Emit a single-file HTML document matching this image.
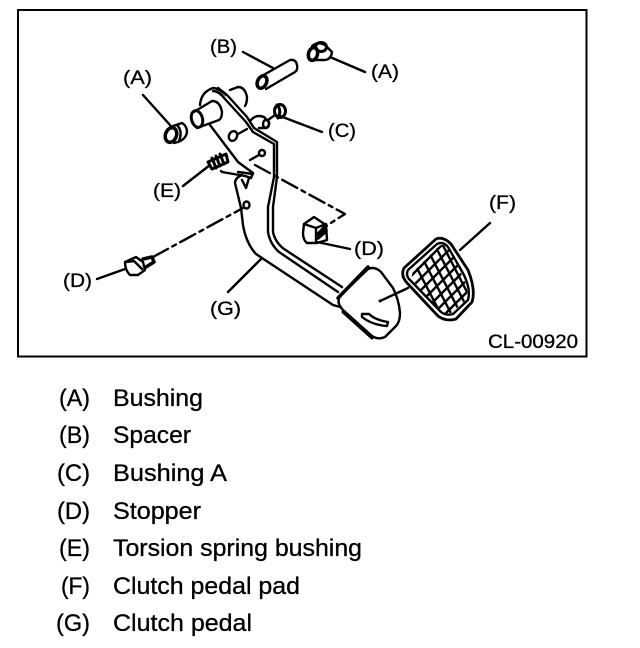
<!DOCTYPE html>
<html>
<head>
<meta charset="utf-8">
<style>
html,body{margin:0;padding:0;background:#fff;width:640px;height:648px;overflow:hidden}
svg{display:block}
text{font-family:"Liberation Sans",sans-serif;fill:#000;stroke:#000;stroke-width:.3px}
.l{font-size:19px}
.t{font-size:24px}
</style>
</head>
<body>
<svg width="640" height="648" viewBox="0 0 640 648" xmlns="http://www.w3.org/2000/svg">
<defs>
<clipPath id="mesh"><path d="M413 272L439 246Q445 243 450 249L466 284Q469 294 465 301L451 313Q445 315 440 311L414 282Q410 277 413 272Z"/></clipPath>
</defs>
<rect x="18" y="10" width="568.500" height="346.500" fill="none" stroke="#000" stroke-width="2"/>

<g fill="none" stroke="#000" stroke-width="2.400" stroke-linecap="round" stroke-linejoin="round">
<!-- leaders -->
<path d="M243 52L273 68M330 57L365 72M143 95L170 125M280 116L322 132M183 186L210 165M317 242L350 249M97 279L125 269M228 292L262 258M460 250L490 223"/>
<!-- dashed -->
<path d="M255 165L345 214L323 228" stroke-dasharray="17 5 4 5"/>
<path d="M153 257L243 208" stroke-dasharray="17 5 4 5"/>

<!-- spacer B -->
<path d="M260 77L290 60Q296 59 297 65Q298 70 295 72L266 89"/>
<ellipse cx="262" cy="82" rx="4.500" ry="6.500" transform="rotate(25 262 82)" stroke-width="3.500"/>
<!-- bushing A right -->
<path d="M312 46Q318 41 325 45L332 52Q331 60 324 60L314 60"/>
<ellipse cx="313" cy="54" rx="4.500" ry="6.500" transform="rotate(15 313 54)" stroke-width="3.500"/>
<ellipse cx="321" cy="47" rx="5.500" ry="4.500" stroke-width="3"/>
<!-- bushing A left -->
<ellipse cx="171" cy="135" rx="5.500" ry="7.500" transform="rotate(20 171 135)" stroke-width="3.500"/>
<path d="M170 127L182 123Q187 126 187 132Q186 139 178 142L174 143"/>
<path d="M177 125Q183 131 179 141"/>
<!-- bushing C -->
<ellipse cx="280" cy="111" rx="5.500" ry="6.500" stroke-width="3"/>
<path d="M277 105Q282 110 278 118" stroke-width="3"/>
<path d="M251 120Q256 114 264 117L269 122Q270 127 265 128L259 128"/>
<ellipse cx="266" cy="124" rx="3" ry="4"/>
<path d="M268 120L275 115"/>

<!-- back cylinder -->
<path d="M230 90L238 87Q245 87 247 97Q247 103 245 106"/>
<!-- boss plate -->
<path d="M200 105Q201 92 213 88Q218 88 226 95"/>
<!-- pedal arm double line -->
<path d="M213 91Q219 91 225 99L246 122L253 132L274 144L274 177L268 207L268 232Q270 244 279 252L338 292"/>
<path d="M218 88L227 95L247 117L254 128L277 142L277 177L273 207L273 232Q275 242 284 249L342 287"/>
<!-- front cylinder -->
<path d="M192 113L212 101Q220 101 222 112Q222 118 219 120L197 128"/>
<ellipse cx="197" cy="119" rx="5.500" ry="8.500" transform="rotate(-15 197 119)" stroke-width="3"/>
<!-- front edge -->
<path d="M210 125L238 162L253 173L251 178L245 176L222 172L221 171"/>
<path d="M238 172L253 174"/>
<path d="M242 175Q235 178 235 183L241 208L243 225Q246 243 256 254L262 258L333 305L340 307"/>
<path d="M242 180L246 188L249 178"/>
<!-- holes -->
<ellipse cx="233" cy="136" rx="4" ry="5" transform="rotate(25 233 136)"/>
<path d="M238 134L247 129"/>
<ellipse cx="262" cy="153" rx="3" ry="3"/>
<path d="M250 160L259 155"/>
<ellipse cx="246.500" cy="205" rx="3" ry="3.500"/>
<!-- torsion spring bushing E -->
<g stroke-width="3">
<path d="M208 162L226 154L228 162L212 169Z"/>
<path d="M212 158L216 168M216 156L220 166M220 154L224 164"/>
</g>
<!-- stopper right -->
<path d="M304 224L314 217L326 225L327 240L317 243L307 243Q303 240 303 233Z"/>
<path d="M304 224L316 228L316 242M316 228L326 224"/>
<path d="M318 234L326 226M318 238L326 231" stroke-width="3.500"/>
<!-- stopper left -->
<path d="M125 262L136 257L143 262L145 270L138 275L130 275Q125 270 125 262Z"/>
<path d="M126 262L134 261L142 269"/>
<path d="M143 259L152 257L154 262L146 267" stroke-width="3.500"/>
<!-- rubber foot -->
<path d="M340 296L368 269Q375 266 381 272L393 288Q399 300 400 313Q400 322 396 326L385 337Q378 340 372 336L343 310Q336 303 340 296Z" fill="#fff"/>
<path d="M338 298L368 267" stroke-width="3.500"/>
<path d="M343 312L372 338" stroke-width="3"/>
<path d="M362 314L369 314Q375 320 388 322L387 326Q372 325 362 317Z"/>
<path d="M380 301L408 288"/>
<!-- pedal pad F -->
<path d="M404 268L436 239Q443 236 451 244L468 270Q476 290 472 302L456 319Q446 322 438 316L408 284Q400 276 404 268Z" fill="#fff" stroke-width="2.800"/>
<path d="M408 270L437 244Q443 241 448 247L464 275Q471 290 468 300L453 314Q446 316 441 312L411 281Q405 276 408 270Z"/>
<g clip-path="url(#mesh)" stroke-width="2.400">
<path d="M395 280L445 230M400 287L450 237M405 294L455 244M410 301L460 251M415 308L465 258M420 315L470 265M425 322L475 272M430 329L480 279M435 336L485 286"/>
<path d="M420 235L464 320M412 238L456 323M404 243L448 328M428 232L472 317M436 232L480 317M444 232L488 317"/>
</g>
</g>
<circle cx="380" cy="301" r="1.500" fill="#000"/>

<!-- diagram labels -->
<text class="l" x="123" y="84" textLength="29" lengthAdjust="spacingAndGlyphs">(A)</text>
<text class="l" x="210" y="53" textLength="27" lengthAdjust="spacingAndGlyphs">(B)</text>
<text class="l" x="371" y="78" textLength="28" lengthAdjust="spacingAndGlyphs">(A)</text>
<text class="l" x="328" y="137" textLength="28" lengthAdjust="spacingAndGlyphs">(C)</text>
<text class="l" x="153" y="197" textLength="28" lengthAdjust="spacingAndGlyphs">(E)</text>
<text class="l" x="354" y="255" textLength="30" lengthAdjust="spacingAndGlyphs">(D)</text>
<text class="l" x="63" y="287" textLength="29" lengthAdjust="spacingAndGlyphs">(D)</text>
<text class="l" x="210" y="315" textLength="31" lengthAdjust="spacingAndGlyphs">(G)</text>
<text class="l" x="489" y="209" textLength="27" lengthAdjust="spacingAndGlyphs">(F)</text>
<text class="l" x="488" y="348" textLength="90" lengthAdjust="spacingAndGlyphs">CL-00920</text>

<!-- legend -->
<text class="t" x="59" y="406" textLength="31" lengthAdjust="spacingAndGlyphs">(A)</text>
<text class="t" x="113" y="406" textLength="90" lengthAdjust="spacingAndGlyphs">Bushing</text>
<text class="t" x="59" y="443" textLength="31" lengthAdjust="spacingAndGlyphs">(B)</text>
<text class="t" x="113" y="443" textLength="78" lengthAdjust="spacingAndGlyphs">Spacer</text>
<text class="t" x="57" y="481" textLength="33" lengthAdjust="spacingAndGlyphs">(C)</text>
<text class="t" x="113" y="481" textLength="114" lengthAdjust="spacingAndGlyphs">Bushing A</text>
<text class="t" x="57" y="519" textLength="33" lengthAdjust="spacingAndGlyphs">(D)</text>
<text class="t" x="113" y="519" textLength="88" lengthAdjust="spacingAndGlyphs">Stopper</text>
<text class="t" x="59" y="556" textLength="31" lengthAdjust="spacingAndGlyphs">(E)</text>
<text class="t" x="113" y="556" textLength="249" lengthAdjust="spacingAndGlyphs">Torsion spring bushing</text>
<text class="t" x="61" y="594" textLength="29" lengthAdjust="spacingAndGlyphs">(F)</text>
<text class="t" x="113" y="594" textLength="187" lengthAdjust="spacingAndGlyphs">Clutch pedal pad</text>
<text class="t" x="56" y="631" textLength="34" lengthAdjust="spacingAndGlyphs">(G)</text>
<text class="t" x="113" y="631" textLength="139" lengthAdjust="spacingAndGlyphs">Clutch pedal</text>
</svg>
</body>
</html>
